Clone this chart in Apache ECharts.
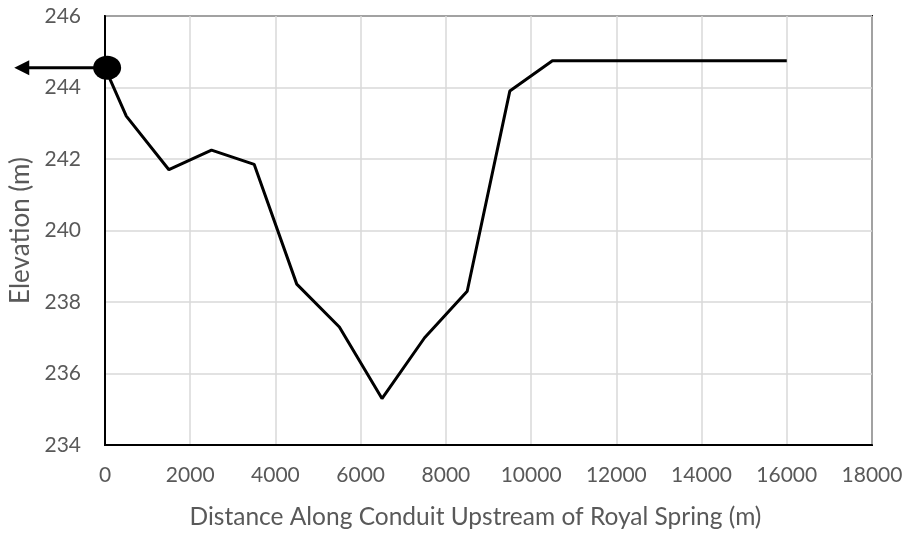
<!DOCTYPE html>
<html>
<head>
<meta charset="utf-8">
<script src="https://cdn.jsdelivr.net/npm/echarts@6/dist/echarts.min.js"></script>
<style>
  html, body { margin: 0; padding: 0; background: #fff; }
  #chart { width: 910px; height: 540px; }
</style>
</head>
<body>
<div id="chart"></div>
<script>
// distance along conduit (m) and elevation (m)
const distance = [0, 500, 1500, 2500, 3500, 4500, 5500, 6500, 7500, 8500, 9500, 10500, 16000]
const elevation = [244.55, 243.2, 241.7, 242.25, 241.85, 238.5, 237.3, 235.3, 237.0, 238.3, 243.9, 244.75, 244.75]
// spring marker and outflow arrow (pointing downstream, off the left of the axis)
const spring = [50, 244.55]
const arrowFrom = [-240, 244.55]
const arrowTo = [-2130, 244.55]

const xTicks = { min: 0, max: 18000, interval: 2000 }
const yTicks = { min: 234, max: 246, interval: 2 }

const font = 'Lato, "Open Sans", sans-serif'
const chartDom = document.getElementById('chart')
const myChart = echarts.init(chartDom)

const lineData = distance.map((d, i) => [d, elevation[i]])

let option = {
  animation: false,
  grid: {
    left: 105, right: 38, top: 16, bottom: 95,
    outerBoundsMode: 'none',
    show: true, borderColor: '#000', borderWidth: 2
  },
  xAxis: {
    type: 'value',
    min: xTicks.min, max: xTicks.max, interval: xTicks.interval,
    name: 'Distance Along Conduit Upstream of Royal Spring (m)',
    nameLocation: 'middle',
    nameGap: 60,
    nameTextStyle: { fontFamily: font, fontSize: 24.5, color: '#595959', padding: [0, 26, 0, 0] },
    axisLine: { lineStyle: { color: '#000', width: 2 } },
    axisTick: { show: false },
    axisLabel: { fontFamily: font, fontSize: 21, color: '#595959', margin: 20, formatter: v => String(v) },
    splitLine: { lineStyle: { color: '#d9d9d9', width: 1.5 } }
  },
  yAxis: {
    type: 'value',
    min: yTicks.min, max: yTicks.max, interval: yTicks.interval,
    name: 'Elevation (m)',
    nameLocation: 'middle',
    nameGap: 63,
    nameTextStyle: { fontFamily: font, fontSize: 26, color: '#595959' },
    axisLine: { show: true, lineStyle: { color: '#000', width: 2 } },
    axisTick: { show: false },
    axisLabel: { fontFamily: font, fontSize: 21, color: '#595959', margin: 24, formatter: v => String(v) },
    splitLine: { lineStyle: { color: '#d9d9d9', width: 1.5 } }
  },
  series: [
    {
      type: 'line',
      data: lineData,
      symbol: 'none',
      lineStyle: { color: '#000', width: 3 },
      z: 3
    },
    {
      type: 'scatter',
      data: [spring],
      symbol: 'circle',
      symbolSize: [28, 24],
      itemStyle: { color: '#000', opacity: 1 },
      z: 4
    }
  ]
}
myChart.setOption(option)

// arrow sits outside the axis range, so draw it from converted data coords
const p0 = myChart.convertToPixel({ xAxisIndex: 0, yAxisIndex: 0 }, arrowFrom)
const p1 = myChart.convertToPixel({ xAxisIndex: 0, yAxisIndex: 0 }, arrowTo)
const headLen = 15
const headHalf = 7.5
myChart.setOption({
  graphic: [
    {
      type: 'line',
      shape: { x1: p0[0], y1: p0[1], x2: p1[0] + headLen - 2, y2: p1[1] },
      style: { stroke: '#000', lineWidth: 3 },
      z: 10
    },
    {
      type: 'polygon',
      shape: {
        points: [
          [p1[0], p1[1]],
          [p1[0] + headLen, p1[1] - headHalf],
          [p1[0] + headLen, p1[1] + headHalf]
        ]
      },
      style: { fill: '#000' },
      z: 10
    }
  ]
})
</script>
</body>
</html>
